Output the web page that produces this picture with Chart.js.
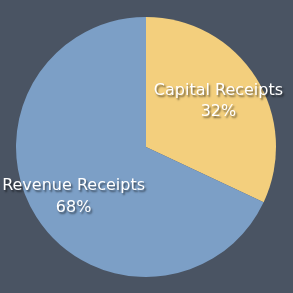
<!DOCTYPE html>
<html>
<head>
<meta charset="utf-8">
<script src="https://cdn.jsdelivr.net/npm/chart.js@4"></script>
<style>
html,body{margin:0;padding:0;background:#4a5463;}
#wrap{width:293px;height:293px;}
</style>
</head>
<body>
<div id="wrap"><canvas id="c" width="293" height="293"></canvas></div>
<script>
const categories = ["Capital Receipts", "Revenue Receipts"];
const percentValues = [32, 68];
const sliceColors = ["#f3cf7d", "#7c9fc6"];

const labelPlugin = {
  id: 'sliceLabels',
  beforeDraw(chart) {
    const ctx = chart.ctx;
    ctx.save();
    ctx.fillStyle = '#4a5463';
    ctx.fillRect(0, 0, chart.width, chart.height);
    ctx.restore();
  },
  afterDatasetsDraw(chart) {
    const ctx = chart.ctx;
    const meta = chart.getDatasetMeta(0);
    const yShift = [0.5, 4];
    ctx.save();
    ctx.font = '16px "DejaVu Sans"';
    ctx.textAlign = 'center';
    ctx.textBaseline = 'middle';
    meta.data.forEach((arc, i) => {
      const mid = (arc.startAngle + arc.endAngle) / 2;
      const r = arc.outerRadius * 0.66;
      const x = arc.x + Math.cos(mid) * r;
      const y = arc.y + Math.sin(mid) * r + yShift[i];
      const lines = [categories[i], percentValues[i] + '%'];
      lines.forEach((t, k) => {
        const ly = y + (k - 0.5) * 21.5;
        ctx.save();
        ctx.shadowColor = 'rgba(0,0,0,0.55)';
        ctx.shadowBlur = 2;
        ctx.shadowOffsetX = 1.5;
        ctx.shadowOffsetY = 2;
        ctx.fillStyle = '#ffffff';
        ctx.fillText(t, x, ly);
        ctx.restore();
      });
    });
    ctx.restore();
  }
};

new Chart(document.getElementById('c'), {
  type: 'pie',
  data: {
    labels: categories,
    datasets: [{
      data: percentValues,
      backgroundColor: sliceColors,
      borderWidth: 0
    }]
  },
  options: {
    responsive: false,
    animation: false,
    layout: { padding: { left: 16, top: 17, right: 17, bottom: 16 } },
    plugins: { legend: { display: false }, tooltip: { enabled: false } }
  },
  plugins: [labelPlugin]
});
</script>
</body>
</html>
